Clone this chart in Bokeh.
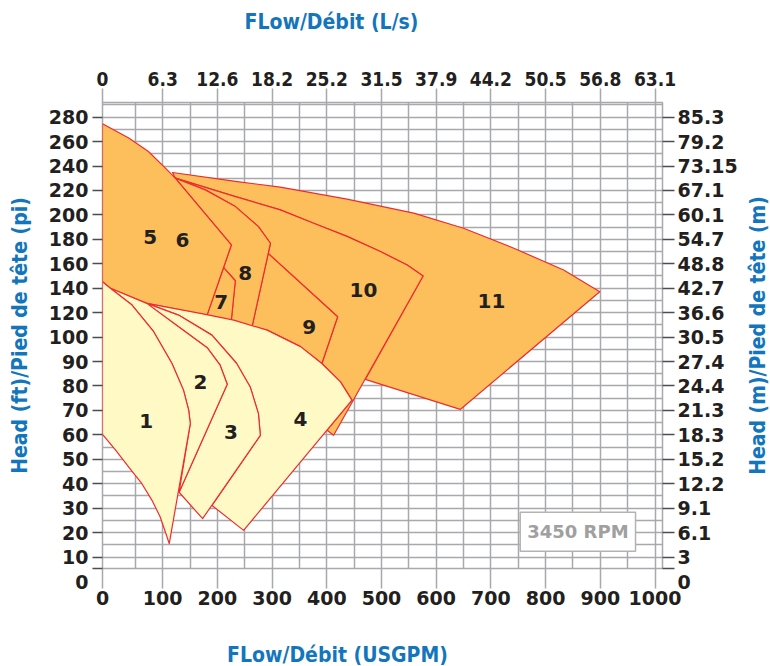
import math
import numpy as np
from bokeh.plotting import figure
from bokeh.models import FixedTicker, LinearAxis, Range1d, Label, ColumnDataSource
from bokeh.core.properties import value
from bokeh.embed import file_html
from bokeh.resources import INLINE

# ---------------- tick values and labels ----------------
flow_gpm_ticks = [0, 100, 200, 300, 400, 500, 600, 700, 800, 900, 1000]
flow_ls_labels = ["0", "6.3", "12.6", "18.2", "25.2", "31.5", "37.9", "44.2", "50.5", "56.8", "63.1"]
head_ft_ticks = [0, 10, 20, 30, 40, 50, 60, 70, 80, 90, 100, 120, 140, 160, 180, 200, 220, 240, 260, 280]
head_m_labels = ["0", "3", "6.1", "9.1", "12.2", "15.2", "18.3", "21.3", "24.4", "27.4", "30.5",
                 "36.6", "42.7", "48.8", "54.7", "60.1", "67.1", "73.15", "79.2", "85.3"]

# ---------------- curves (gpm, ft) ----------------
env_gpm = [0, 12, 71, 169, 230, 291, 352, 391, 425, 446]          # top of the light zones
env_ft = [145.3, 140, 127.6, 119.4, 113.9, 105.7, 96.1, 89.2, 81.7, 74.2]
curveA_gpm = [12, 45, 83.5, 117, 138, 147.5, 150.5]
curveA_ft = [140, 126.2, 104.4, 89.2, 78.3, 70.1, 64.6]
curveB_gpm = [71, 129, 182, 205, 218]
curveB_ft = [127.6, 108.4, 95.5, 88.5, 80.7]
curveC_gpm = [71, 129, 190, 235, 260, 275, 278.5]
curveC_ft = [127.6, 118, 101.6, 89.3, 79.6, 68.7, 59.8]
r1_bottom_gpm = [0, 20, 40, 62, 80.5, 95.5, 106, 112]
r1_bottom_ft = [60.2, 53.7, 46.8, 40, 33.2, 26.4, 19.5, 15.5]
r5_top_gpm = [0, 40, 74, 105, 123]
r5_top_ft = [274.6, 262.9, 251.9, 238.3, 230.1]
r8_top_gpm = [123, 178, 233, 275, 297]
r8_top_ft = [230.1, 220.5, 206.8, 190.4, 176.8]
r10_top_gpm = [123, 233, 315, 376, 437, 498, 547, 576]
r10_top_ft = [230.1, 215, 204.1, 193.2, 182.4, 170, 159, 150]
r11_top_gpm = [118, 233, 315, 437, 559, 650, 742, 833, 899]
r11_top_ft = [234.7, 227.5, 222.7, 212.9, 201.4, 189.1, 172.7, 154.9, 137.1]
r11_bottom = [(644, 70.4), (470.4, 82.7)]
junction_12 = (130, 36.5)
r3_tip = (173, 25.7)
r4_tip = (248, 20.9)
r4_left = (190.2, 31.1)
r5_corner = (225.5, 175.4)
r5_foot = (181, 117.8)
r7_top = (211.4, 156.9)
r7_right = (232.8, 146.1)
r7_foot = (225.5, 113.8)
r8_foot = (263.3, 108.4)
r9_top_left = (293, 168.4)
r9_top_right = (419.8, 116.6)
r10_tip = (412.5, 59.8)
r10_heel = (400.4, 61.9)

region_names = ["1", "2", "3", "4", "5", "6", "7", "8", "9", "10", "11"]
region_label_gpm = [70, 169, 225, 352, 77, 136, 207, 251, 368, 467, 701]
region_label_ft = [65.6, 81.6, 61.1, 66.4, 182, 179.5, 128.7, 152.5, 108.2, 138.5, 129.5]

ORANGE = "#FDBF5B"
YELLOW = "#FFF9C6"
RED = "#EE2B2F"
GRID = "#A7A9AC"
INK = "#231F20"
BLUE = "#1376BC"
TITLE_FONT = "DejaVu Sans Condensed"


# ---------------- piecewise scales of the printed chart ----------------
def xk(gpm):
    return np.interp(np.asarray(gpm, dtype=float), [0, 50, 1000, 1100], [0, 60, 1010, 1110])


def yk(ft):
    return np.interp(np.asarray(ft, dtype=float), [0, 100, 280, 300], [0, 10, 19, 20])


X0, X1, Y0, Y1 = 0.0, 1023.7, 0.53, 19.6
FL, FT, FW, FH = 102, 102, 560, 466          # frame position in the page


def at_px(px, py):
    """Page pixel -> range units (for annotations placed around the frame)."""
    return (X0 + (px - FL) * (X1 - X0) / FW, Y0 + (FT + FH - py) * (Y1 - Y0) / FH)


def pts(g, f):
    return list(zip(g, f))


ENV = pts(env_gpm, env_ft)
A = pts(curveA_gpm, curveA_ft)
B = pts(curveB_gpm, curveB_ft)
C = pts(curveC_gpm, curveC_ft)
R1B = pts(r1_bottom_gpm, r1_bottom_ft)
R5T = pts(r5_top_gpm, r5_top_ft)
R8T = pts(r8_top_gpm, r8_top_ft)
R10T = pts(r10_top_gpm, r10_top_ft)
R11T = pts(r11_top_gpm, r11_top_ft)

polys = [
    (R11T + r11_bottom + R10T[::-1], ORANGE),
    (R10T + [r10_tip, r10_heel, ENV[9], ENV[8], ENV[7], r9_top_right, r9_top_left] + R8T[::-1], ORANGE),
    ([r9_top_left, r9_top_right] + ENV[7:4:-1] + [r8_foot], ORANGE),
    (R8T + [r8_foot, r7_foot, r7_right, r7_top, r5_corner], ORANGE),
    ([r7_top, r7_right, r7_foot, r5_foot], ORANGE),
    (R5T + [r5_corner, r5_foot, ENV[2], ENV[1], ENV[0]], ORANGE),
    (ENV[2:] + [r4_tip, r4_left] + C[::-1], YELLOW),
    (B + [junction_12, r3_tip] + C[::-1], YELLOW),
    (A + [junction_12] + B[::-1], YELLOW),
    ([ENV[0]] + A + R1B[::-1], YELLOW),
]

src = ColumnDataSource(dict(
    xs=[[float(v) for v in xk([q[0] for q in P])] for P, _ in polys],
    ys=[[float(v) for v in yk([q[1] for q in P])] for P, _ in polys],
    fill=[c for _, c in polys],
))

p = figure(width=770, height=666, x_range=Range1d(X0, X1), y_range=Range1d(Y0, Y1),
           output_backend="svg", toolbar_location=None,
           min_border_left=FL, min_border_right=770 - FL - FW,
           min_border_top=FT, min_border_bottom=666 - FT - FH)
p.background_fill_color = "white"
p.border_fill_color = "white"
p.outline_line_color = GRID
p.outline_line_width = 1.5

# grid
p.xgrid.ticker = FixedTicker(ticks=[float(v) for v in xk(np.arange(0, 1001, 50))])
p.ygrid.ticker = FixedTicker(ticks=[k / 2 for k in range(2, 40)])
for g in (p.xgrid[0], p.ygrid[0]):
    g.grid_line_color = GRID
    g.grid_line_width = 1.5

p.patches("xs", "ys", source=src, fill_color="fill", line_color=RED, line_width=1.2,
          line_join="round")

p.text(x=[float(v) for v in xk(region_label_gpm)], y=[float(v) for v in yk(region_label_ft)],
       text=region_names, text_font=value("DejaVu Sans"), text_font_style="bold",
       text_font_size="20px", text_color=INK, text_align="center", text_baseline="middle")

# axes
xt = [float(v) for v in xk(flow_gpm_ticks)]
yt = [float(v) for v in yk(head_ft_ticks)]
yt[0] = Y0 + 0.001                      # zero sits on the frame's lower edge
y_zero_label = "\n0"

bx = p.xaxis[0]
bx.ticker = FixedTicker(ticks=xt, minor_ticks=[])
bx.major_label_overrides = {t: str(g) for t, g in zip(xt, flow_gpm_ticks)}

ly = p.yaxis[0]
ly.ticker = FixedTicker(ticks=yt, minor_ticks=[])
ly.major_label_overrides = {t: (y_zero_label if f == 0 else str(f)) for t, f in zip(yt, head_ft_ticks)}
ly.axis_label = "Head (ft)/Pied de tête (pi)"

ry = LinearAxis(ticker=FixedTicker(ticks=yt, minor_ticks=[]),
                major_label_overrides={t: (y_zero_label if m == "0" else m) for t, m in zip(yt, head_m_labels)})
p.add_layout(ry, "right")

tx = LinearAxis(ticker=FixedTicker(ticks=xt, minor_ticks=[]),
                major_label_overrides={t: l for t, l in zip(xt, flow_ls_labels)})
p.add_layout(tx, "above")

for ax in (bx, ly, ry, tx):
    ax.axis_line_color = None
    ax.major_tick_in = 0
    ax.minor_tick_line_color = None
    ax.major_label_text_font = "DejaVu Sans"
    ax.major_label_text_font_style = "bold"
    ax.major_label_text_font_size = "19px"
    ax.major_label_text_color = INK
    ax.axis_label_text_font = TITLE_FONT
    ax.axis_label_text_font_style = "bold"
    ax.axis_label_text_font_size = "21px"
    ax.axis_label_text_color = BLUE

bx.major_tick_out = 20
bx.major_tick_line_color = GRID
bx.major_tick_line_width = 1.5
bx.major_label_standoff = 2

tx.major_tick_out = 14
tx.major_tick_line_color = GRID
tx.major_tick_line_width = 1.5
tx.major_label_standoff = 3
tx.major_label_text_font = "DejaVu Sans Condensed"

ly.major_tick_out = 10
ly.major_tick_line_color = "#4D4D4F"
ly.major_tick_line_width = 1.5
ly.major_label_standoff = 4
ly.axis_label_standoff = 14

ry.major_tick_out = 12
ry.major_tick_line_color = "#4D4D4F"
ry.major_tick_line_width = 1.5
ry.major_label_standoff = 3


def side_title(px, py, text, side, angle=0.0):
    x, y = at_px(px, py)
    p.add_layout(Label(x=x, y=y, text=text, angle=angle, text_align="center",
                       text_baseline="middle", text_font=TITLE_FONT, text_font_style="bold",
                       text_font_size="21px", text_color=BLUE), side)


side_title(331, 21, "FLow/Débit (L/s)", "above")
side_title(337, 654, "FLow/Débit (USGPM)", "below")
side_title(757, 335, "Head (m)/Pied de tête (m)", "right", math.pi / 2)

# speed box
rpm = Label(x=float(xk(859)), y=float(yk(20.3)), text="3450 RPM", text_align="center",
            text_baseline="middle", text_font="DejaVu Sans", text_font_style="bold",
            text_font_size="18px", text_color="#A0A0A0", background_fill_color="white",
            border_line_color="#B3B3B3", border_line_width=1.5, padding=(7, 9))
p.add_layout(rpm)

open("out.html", "w").write(file_html(p, INLINE))
